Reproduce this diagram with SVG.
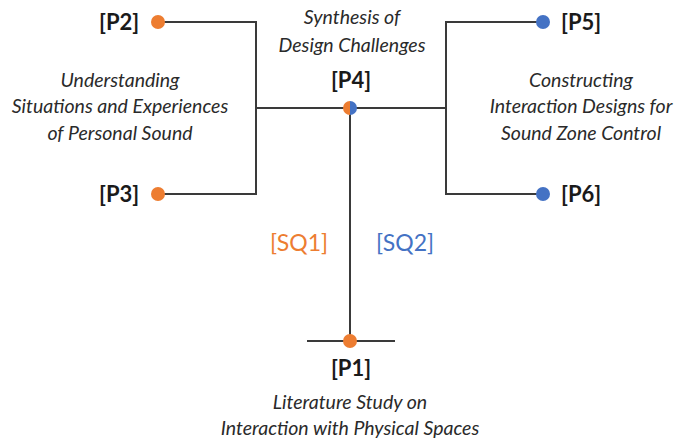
<svg xmlns="http://www.w3.org/2000/svg" width="676" height="442" viewBox="0 0 676 442">
<defs>
<style>
.ln{stroke:#3a3a3a;stroke-width:2;fill:none}
.lbl{font-family:"Lato","Open Sans","Liberation Sans",sans-serif;font-weight:bold;font-size:22px;fill:#1a1a1a}
.it{font-family:"Lato","Open Sans","Liberation Sans",sans-serif;font-style:italic;font-size:19.5px;fill:#2a2a2a;text-anchor:middle}
.sq{font-family:"Lato","Open Sans","Liberation Sans",sans-serif;font-size:23px;text-anchor:middle}
.or{fill:#ED7D31}
.bl{fill:#4472C4}
</style>
<clipPath id="lh"><rect x="340" y="98" width="10" height="20"/></clipPath>
<clipPath id="rh"><rect x="350" y="98" width="10" height="20"/></clipPath>
</defs>
<rect width="676" height="442" fill="#fff"/>
<g id="connectors">
<polyline class="ln" points="158,22 256,22 256,194 158,194"/>
<polyline class="ln" points="543,22 446,22 446,194 543,194"/>
<line class="ln" x1="256" y1="108" x2="446" y2="108"/>
<line class="ln" x1="350" y1="108" x2="350" y2="341"/>
<line class="ln" x1="307" y1="341" x2="395" y2="341"/>
</g>
<g id="P2"><circle class="or" cx="158" cy="22" r="7"/><text class="lbl" x="99" y="30">[P2]</text></g>
<g id="P3"><circle class="or" cx="158" cy="194" r="7"/><text class="lbl" x="99" y="202">[P3]</text></g>
<g id="P5"><circle class="bl" cx="543" cy="22" r="7"/><text class="lbl" x="561" y="30">[P5]</text></g>
<g id="P6"><circle class="bl" cx="543" cy="194" r="7"/><text class="lbl" x="561" y="202">[P6]</text></g>
<g id="P4">
<circle class="or" cx="350" cy="108" r="7" clip-path="url(#lh)"/>
<circle class="bl" cx="350" cy="108" r="7" clip-path="url(#rh)"/>
<text class="lbl" x="351" y="88" text-anchor="middle">[P4]</text>
<text class="it" x="352" y="24">Synthesis of</text>
<text class="it" x="352" y="52">Design Challenges</text>
</g>
<g id="P1">
<circle class="or" cx="350" cy="341" r="7"/>
<text class="lbl" x="351" y="376" text-anchor="middle">[P1]</text>
<text class="it" x="350" y="409">Literature Study on</text>
<text class="it" x="350" y="435">Interaction with Physical Spaces</text>
</g>
<g id="left-label">
<text class="it" x="120" y="87">Understanding</text>
<text class="it" x="120" y="113">Situations and Experiences</text>
<text class="it" x="120" y="140">of Personal Sound</text>
</g>
<g id="right-label">
<text class="it" x="581" y="87">Constructing</text>
<text class="it" x="581" y="113">Interaction Designs for</text>
<text class="it" x="581" y="140">Sound Zone Control</text>
</g>
<g id="SQ1"><text class="sq or" x="299" y="251">[SQ1]</text></g>
<g id="SQ2"><text class="sq bl" x="405" y="251">[SQ2]</text></g>
</svg>
